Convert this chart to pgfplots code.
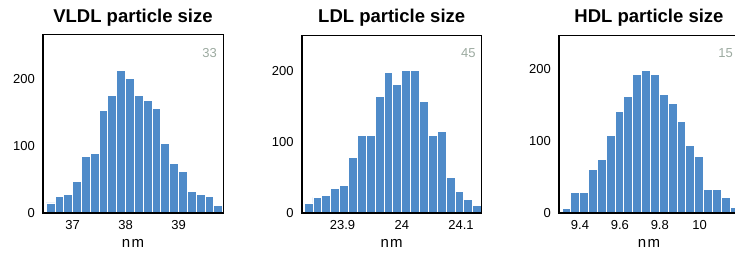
\documentclass[border=0pt]{standalone}
\usepackage{fontspec}
\setmainfont{Liberation Sans}
\usepackage{pgfplots}
\usepackage{pgfplotstable}
\pgfplotsset{compat=1.18}

\definecolor{barblue}{RGB}{79,139,201}
\definecolor{numgray}{RGB}{156,170,160}

\pgfplotstableread{
x y
36.5 15
36.6667 24
36.8333 27
37.0 47
37.1667 84
37.3333 89
37.5 153
37.6667 175
37.8333 213
38.0 201
38.1667 175
38.3333 168
38.5 156
38.6667 104
38.8333 74
39.0 62
39.1667 32
39.3333 27
39.5 24
39.6667 11
39.8333 11
}\vldl

\pgfplotstableread{
x y
23.835 14
23.85 22
23.865 25
23.88 34
23.895 39
23.91 78
23.925 109
23.94 109
23.955 163
23.97 198
23.985 181
24.0 200
24.015 200
24.03 157
24.045 109
24.06 114
24.075 50
24.09 30
24.105 19
24.12 11
24.135 11
}\ldl

\pgfplotstableread{
x y
9.31 6
9.3543 28
9.3987 28
9.4430 60
9.4873 74
9.5317 108
9.5760 141
9.6203 162
9.6647 192
9.7090 198
9.7533 192
9.7977 164
9.8420 152
9.8863 127
9.9307 94
9.9750 78
10.0193 33
10.0637 33
10.1080 22
10.1523 8
10.1967 8
}\hdl

\pgfplotsset{hist/.style={
  scale only axis, width=180pt, height=178pt,
  anchor=south west,
  ymin=0,
  clip=false,
  axis on top,
  axis line style={black, line width=1pt},
  major tick length=0pt,
  ytick={0,100,200},
  tick label style={font=\fontsize{13}{14}\selectfont},
  /pgf/number format/assume math mode=true,
  xticklabel style={anchor=base, yshift=-16.5pt, inner sep=0pt},
  yticklabel style={anchor=east, xshift=-8pt, inner sep=0pt},
  xlabel={\addfontfeature{LetterSpace=8}nm},
  xlabel style={font=\fontsize{15}{16}\selectfont, at={(axis description cs:0.5,0)}, anchor=base, yshift=-34pt, inner sep=0pt},
  title style={font=\bfseries\fontsize{18.5}{20}\selectfont, at={(axis description cs:0.5,1)}, anchor=base, yshift=6.5pt, inner sep=0pt},
}}

\newcommand{\framelines}{%
  \draw[line width=1.7pt, black] (rel axis cs:0,1) -- (rel axis cs:0,0) -- (rel axis cs:1,0);}

\begin{document}
\begin{tikzpicture}
\begin{axis}[hist, at={(43pt,39pt)}, xmin=36.44, xmax=39.84, ymax=266,
  xtick={37,38,39}, title={VLDL particle size}]
  \addplot[ybar interval, fill=barblue, draw=white, line width=0.9pt] table[x=x,y=y] {\vldl};
  \framelines
  \node[anchor=base east, inner sep=0pt, text=numgray, font=\fontsize{13}{14}\selectfont] at (rel axis cs:1,1) [xshift=-6pt, yshift=-22.5pt] {33};
\end{axis}
\begin{axis}[hist, at={(301.7pt,39pt)}, xmin=23.831, xmax=24.135, ymax=250,
  xtick={23.9,24,24.1}, title={LDL particle size}]
  \addplot[ybar interval, fill=barblue, draw=white, line width=0.9pt] table[x=x,y=y] {\ldl};
  \framelines
  \node[anchor=base east, inner sep=0pt, text=numgray, font=\fontsize{13}{14}\selectfont] at (rel axis cs:1,1) [xshift=-6pt, yshift=-22.5pt] {45};
\end{axis}
\begin{axis}[hist, at={(559pt,39pt)}, xmin=9.295, xmax=10.197, ymax=247,
  xtick={9.4,9.6,9.8,10}, title={HDL particle size}]
  \addplot[ybar interval, fill=barblue, draw=white, line width=0.9pt] table[x=x,y=y] {\hdl};
  \framelines
  \node[anchor=base east, inner sep=0pt, text=numgray, font=\fontsize{13}{14}\selectfont] at (rel axis cs:1,1) [xshift=-6pt, yshift=-22.5pt] {15};
\end{axis}
\pgfresetboundingbox
\path[use as bounding box] (0,0) rectangle (735pt,252pt);
\end{tikzpicture}
\end{document}
